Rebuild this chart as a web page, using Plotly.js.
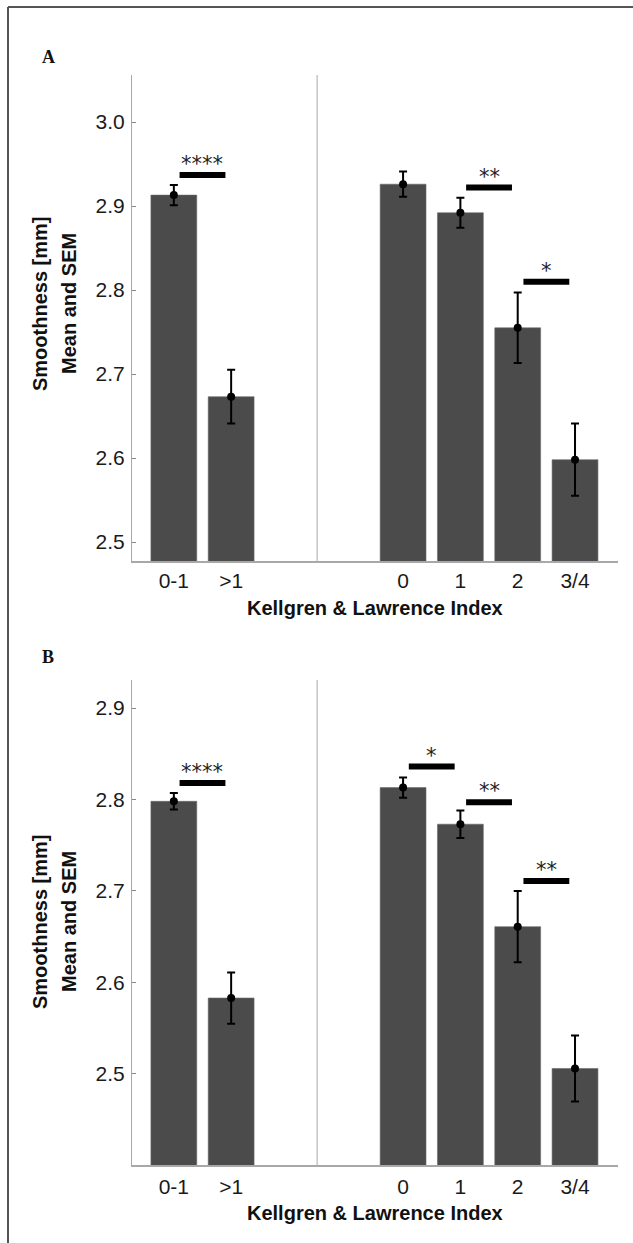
<!DOCTYPE html>
<html>
<head>
<meta charset="utf-8">
<script src="https://cdn.plot.ly/plotly-3.0.1.min.js"></script>
<style>html,body{margin:0;padding:0;background:#fff;}#chart{width:633px;height:1243px;}</style>
</head>
<body>
<div id="chart"></div>
<script>
// ---- data ----
var categories = ['0-1', '>1', '0', '1', '2', '3/4'];
var catPos = [0, 1, 4, 5, 6, 7];

var meanA = [2.913, 2.673, 2.926, 2.892, 2.755, 2.598];
var semA  = [0.012, 0.032, 0.015, 0.018, 0.042, 0.043];
var meanB = [2.798, 2.583, 2.813, 2.773, 2.661, 2.506];
var semB  = [0.009, 0.028, 0.011, 0.015, 0.039, 0.036];

var yTicksA = [2.5, 2.6, 2.7, 2.8, 2.9, 3.0];
var yTicksB = [2.5, 2.6, 2.7, 2.8, 2.9];

// significance bars: index of left category (compared with the next one), level, label
var sigFromA  = [0, 3, 4];
var sigLevelA = [2.937, 2.922, 2.810];
var sigTextA  = ['****', '**', '*'];
var sigFromB  = [0, 2, 3, 4];
var sigLevelB = [2.818, 2.836, 2.797, 2.711];
var sigTextB  = ['****', '*', '**', '**'];

var panelLabels = ['A', 'B'];
var xTitle = 'Kellgren & Lawrence Index';
var yTitle1 = 'Smoothness [mm]';
var yTitle2 = 'Mean and SEM';

// ---- layout helpers (pixel -> paper) ----
var W = 633, H = 1243;
function px(x) { return x / W; }
function py(y) { return 1 - y / H; }

var barColor = '#4b4b4b';
var axisColor = '#a8a8a8';
var tickFont = {family: 'Liberation Sans, Arial, sans-serif', size: 21, color: '#1a1a1a'};

function panelTraces(mean, sem, xa, ya) {
  return [
    {type: 'bar', x: catPos, y: mean,
     width: 0.8, marker: {color: barColor, line: {color: '#6a6a6a', width: 0.6}},
     xaxis: xa, yaxis: ya, hoverinfo: 'skip', showlegend: false},
    {type: 'scatter', mode: 'markers', x: catPos, y: mean,
     marker: {color: '#000', size: 8},
     error_y: {type: 'data', array: sem, visible: true, color: '#000', thickness: 2, width: 4},
     xaxis: xa, yaxis: ya, hoverinfo: 'skip', showlegend: false}
  ];
}

var data = panelTraces(meanA, semA, 'x', 'y').concat(panelTraces(meanB, semB, 'x2', 'y2'));

function xAxis(dom, anchor, standoff) {
  return {domain: dom, anchor: anchor, range: [-0.73, 7.75], tickvals: catPos, ticktext: categories,
    showgrid: false, zeroline: false, showline: true, linecolor: axisColor, linewidth: 2,
    ticks: '', tickfont: tickFont, ticklabelstandoff: standoff, fixedrange: true};
}
function yAxis(dom, anchor, range, ticks) {
  return {domain: dom, anchor: anchor, range: range, tickvals: ticks,
    ticktext: ticks.map(function(v){return v.toFixed(1);}),
    showgrid: false, zeroline: false, showline: true, linecolor: axisColor, linewidth: 1,
    ticks: 'inside', ticklen: 4, tickcolor: '#888', tickwidth: 1, tickfont: tickFont,
    ticklabelstandoff: 2, fixedrange: true};
}

var shapes = [
  // frame (cropped at right and bottom)
  {type: 'line', xref: 'paper', yref: 'paper', x0: px(8), x1: 1.05, y0: py(7), y1: py(7), line: {color: '#555', width: 2}},
  {type: 'line', xref: 'paper', yref: 'paper', x0: px(8), x1: px(8), y0: py(7), y1: -0.05, line: {color: '#555', width: 2}},
  // dividers
  {type: 'line', xref: 'x', yref: 'y domain', x0: 2.5, x1: 2.5, y0: 0, y1: 1, line: {color: axisColor, width: 1}},
  {type: 'line', xref: 'x2', yref: 'y2 domain', x0: 2.5, x1: 2.5, y0: 0, y1: 1, line: {color: axisColor, width: 1}}
];

var annotations = [];
function addSig(from, level, txt, xr, yr) {
  for (var i = 0; i < from.length; i++) {
    var a = catPos[from[i]], b = catPos[from[i] + 1];
    shapes.push({type: 'line', xref: xr, yref: yr, x0: a + 0.1, x1: b - 0.1, y0: level[i], y1: level[i],
      line: {color: '#000', width: 6}});
    annotations.push({xref: xr, yref: yr, x: (a + b) / 2, y: level[i], text: txt[i], showarrow: false,
      yanchor: 'middle', yshift: 11, font: {family: 'DejaVu Sans, sans-serif', size: 21, color: '#222'}});
  }
}
addSig(sigFromA, sigLevelA, sigTextA, 'x', 'y');
addSig(sigFromB, sigLevelB, sigTextB, 'x2', 'y2');

function addTitles(panel, labelY, xTitleY, yTitleY) {
  annotations.push({xref: 'paper', yref: 'paper', x: px(48), y: py(labelY), text: '<b>' + panel + '</b>',
    showarrow: false, xanchor: 'center', yanchor: 'middle',
    font: {family: 'Liberation Serif, Times New Roman, serif', size: 18, color: '#111'}});
  annotations.push({xref: 'paper', yref: 'paper', x: px(375), y: py(xTitleY), text: '<b>' + xTitle + '</b>',
    showarrow: false, xanchor: 'center', yanchor: 'middle',
    font: {family: 'Liberation Sans, Arial, sans-serif', size: 20, color: '#111'}});
  annotations.push({xref: 'paper', yref: 'paper', x: px(40), y: py(yTitleY), text: '<b>' + yTitle1 + '</b>',
    showarrow: false, textangle: -90, xanchor: 'center', yanchor: 'middle',
    font: {family: 'Liberation Sans, Arial, sans-serif', size: 20, color: '#111'}});
  annotations.push({xref: 'paper', yref: 'paper', x: px(69), y: py(yTitleY), text: '<b>' + yTitle2 + '</b>',
    showarrow: false, textangle: -90, xanchor: 'center', yanchor: 'middle',
    font: {family: 'Liberation Sans, Arial, sans-serif', size: 20, color: '#111'}});
}
addTitles(panelLabels[0], 57, 608, 304);
addTitles(panelLabels[1], 657, 1213, 922);

var layout = {
  width: W, height: H, margin: {l: 0, r: 0, t: 0, b: 0},
  paper_bgcolor: '#fff', plot_bgcolor: '#fff', showlegend: false, bargap: 0,
  xaxis: xAxis([px(132), px(618)], 'y', 0),
  yaxis: yAxis([py(561), py(75)], 'x', [2.4774, 3.056], yTicksA),
  xaxis2: xAxis([px(132), px(618)], 'y2', 2),
  yaxis2: yAxis([py(1165), py(680)], 'x2', [2.4005, 2.9306], yTicksB),
  shapes: shapes, annotations: annotations
};

Plotly.newPlot('chart', data, layout, {displayModeBar: false, staticPlot: true});
</script>
</body>
</html>
